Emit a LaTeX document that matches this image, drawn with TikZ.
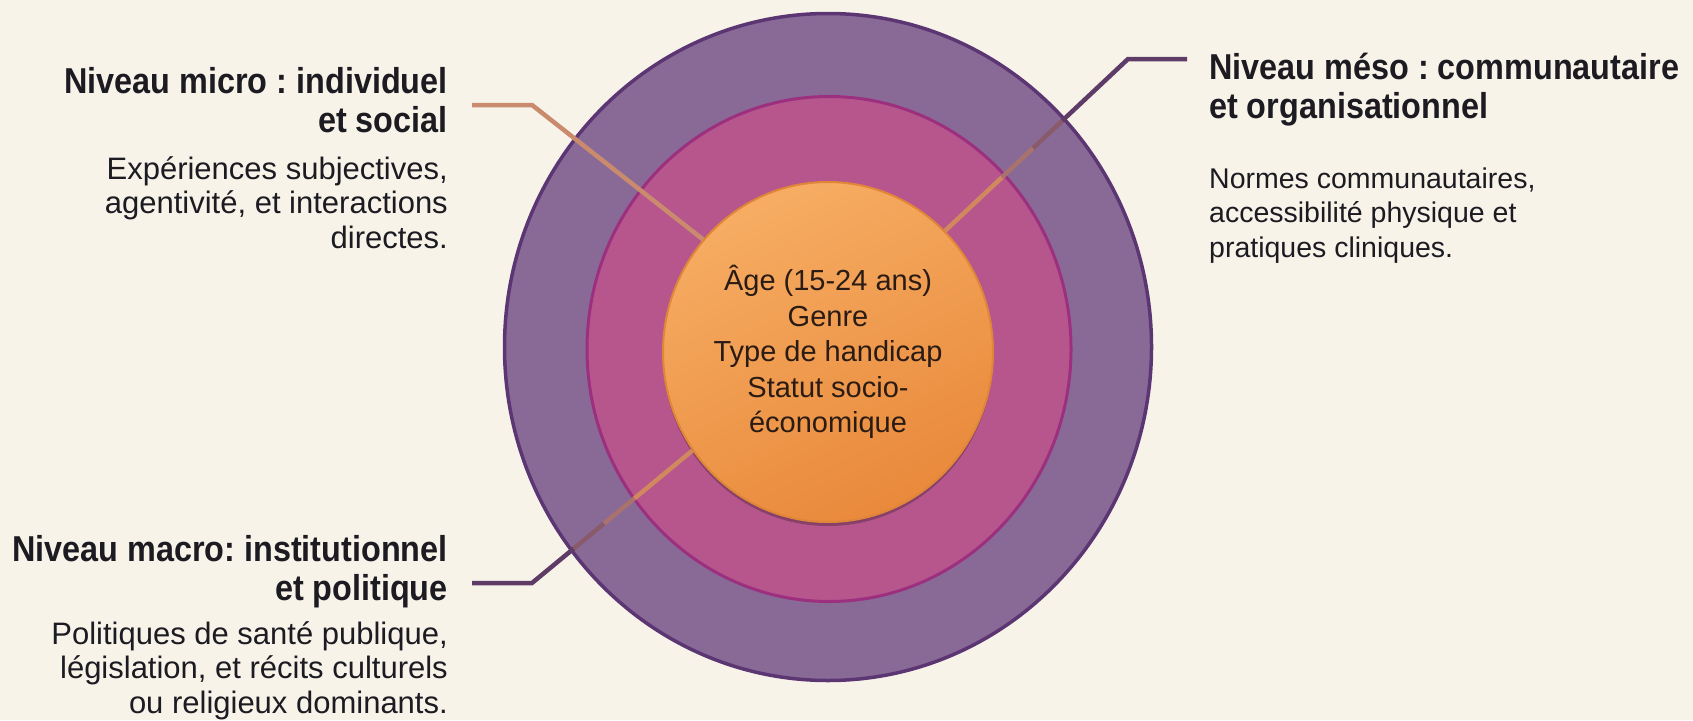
\documentclass[tikz,border=0pt]{standalone}
\usepackage{fontspec}
\setmainfont{Liberation Sans}
\newfontfamily\headfont[FakeStretch=0.9]{Liberation Sans}
\frenchspacing
\usetikzlibrary{shapes.geometric,calc,shadows}
\definecolor{bg}{HTML}{F8F3E9}
\definecolor{ringA}{HTML}{896A97}
\definecolor{ringAb}{HTML}{5C3673}
\definecolor{ringB}{HTML}{B6568D}
\definecolor{ringBb}{HTML}{9C307F}
\definecolor{coreT}{HTML}{F6AD63}
\definecolor{coreB}{HTML}{E9893B}
\definecolor{coreb}{HTML}{E08638}
\definecolor{ink}{HTML}{1C1B22}
\definecolor{coreink}{HTML}{2A1B14}
\definecolor{tanline}{HTML}{C98A6E}
\definecolor{plumline}{HTML}{5E3C67}
\tikzset{
  titleR/.style={font=\headfont\bfseries\fontsize{36}{39}\selectfont, text=ink, inner sep=0pt, align=right},
  titleL/.style={font=\headfont\bfseries\fontsize{36}{39}\selectfont, text=ink, inner sep=0pt, align=left},
  bodyR/.style={font=\fontsize{31}{34.5}\selectfont, text=ink, inner sep=0pt, align=right},
  bodyL/.style={font=\fontsize{28.5}{34.5}\selectfont, text=ink, inner sep=0pt, align=left},
  conn/.style={line width=4.5pt, line cap=butt, line join=miter},
}
\begin{document}
\begin{tikzpicture}[x=1pt,y=-1pt]
\fill[bg] (0,0) rectangle (1693,720);
\useasboundingbox (0,0) rectangle (1693,720);

% rings
\node[ellipse, draw=ringAb, line width=3.5pt, fill=ringA, minimum width=647pt, minimum height=667pt, inner sep=0pt] (outer) at (828,347) {};
\node[ellipse, draw=ringBb, line width=3pt, fill=ringB, minimum width=484pt, minimum height=505pt, inner sep=0pt] (middle) at (829,349) {};

% core
\node[ellipse, draw=coreb, line width=2pt, top color=coreT, bottom color=coreB, shading angle=25,
      drop shadow={shadow xshift=0pt, shadow yshift=-4pt, opacity=0.25, fill=black},
      minimum width=330pt, minimum height=340pt, inner sep=0pt, align=center,
      font=\fontsize{29}{35.5}\selectfont, text=coreink] (core) at (828,352)
  {Âge (15-24 ans)\\Genre\\Type de handicap\\Statut socio-\\économique};

% connectors
\coordinate (microA) at (472,105);
\coordinate (microB) at (532,105);
\draw[conn, tanline] (microA) -- (microB) -- (core.138);

\coordinate (mesoA) at (1187,59);
\coordinate (mesoB) at (1128,59);
\draw[conn, plumline] (mesoA) -- (mesoB) -- ($(mesoB)!0.36!(core.46)$);
\draw[conn, plumline!60!tanline] ($(mesoB)!0.36!(core.46)$) -- ($(mesoB)!0.52!(core.46)$);
\draw[conn, plumline!30!tanline] ($(mesoB)!0.52!(core.46)$) -- ($(mesoB)!0.69!(core.46)$);
\draw[conn, tanline!85!orange] ($(mesoB)!0.69!(core.46)$) -- (core.46);

\coordinate (macroA) at (472,583);
\coordinate (macroB) at (532,583);
\draw[conn, plumline] (macroA) -- (macroB) -- ($(macroB)!0.26!(core.216)$);
\draw[conn, plumline!60!tanline] ($(macroB)!0.26!(core.216)$) -- ($(macroB)!0.45!(core.216)$);
\draw[conn, plumline!30!tanline] ($(macroB)!0.45!(core.216)$) -- ($(macroB)!0.64!(core.216)$);
\draw[conn, tanline!85!orange] ($(macroB)!0.64!(core.216)$) -- (core.216);

% texts
\node[titleR, anchor=north east] (microT) at (448,67) {Niveau micro : individuel\\et social};
\node[bodyR, anchor=north east] (microD) at (448,156) {Expériences subjectives,\\agentivité, et interactions\\directes.};

\node[titleL, anchor=north west] (mesoT) at (1209,52.5) {Niveau méso : communautaire\\et organisationnel};
\node[bodyL, anchor=north west] (mesoD) at (1209,167.5) {Normes communautaires,\\accessibilité physique et\\pratiques cliniques.};

\node[titleR, anchor=north east] (macroT) at (448,535.5) {Niveau macro: institutionnel\\et politique};
\node[bodyR, anchor=north east] (macroD) at (448,621) {Politiques de santé publique,\\législation, et récits culturels\\ou religieux dominants.};
\end{tikzpicture}
\end{document}
